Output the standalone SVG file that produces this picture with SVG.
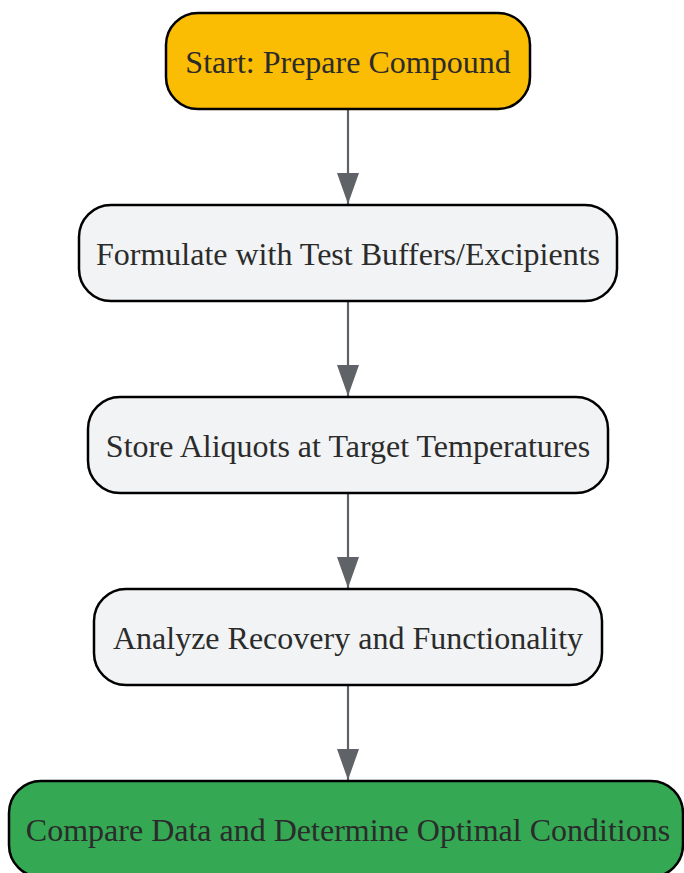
<svg xmlns="http://www.w3.org/2000/svg" width="684" height="873" viewBox="0 0 684 873">
<style>
.n{stroke:#000;stroke-width:2.5}
.t{font-family:"Liberation Serif","Times New Roman",serif;font-size:32px;fill:#2b2b2b;text-anchor:middle;dominant-baseline:central}
.e{stroke:#5f6368;stroke-width:2.2;fill:none;marker-end:url(#ah)}
</style>
<defs>
<marker id="ah" markerWidth="31" markerHeight="22" refX="31" refY="11" orient="auto" markerUnits="userSpaceOnUse" viewBox="0 0 31 22">
<path d="M0,0 L31,11 L0,22 Z" fill="#5f6368"/>
</marker>
</defs>
<rect width="684" height="873" fill="#fff"/>
<g id="edges">
<line class="e" x1="348" y1="109" x2="348" y2="204"/>
<line class="e" x1="348" y1="301" x2="348" y2="396"/>
<line class="e" x1="348" y1="493" x2="348" y2="588"/>
<line class="e" x1="348" y1="685" x2="348" y2="780"/>
</g>
<g id="start">
<rect class="n" x="166" y="13" width="364" height="96" rx="32" fill="#fbbc04"/>
<text class="t" x="348" y="62">Start: Prepare Compound</text>
</g>
<g id="formulate">
<rect class="n" x="79" y="205" width="538" height="96" rx="32" fill="#f1f3f4"/>
<text class="t" x="348" y="254">Formulate with Test Buffers/Excipients</text>
</g>
<g id="store">
<rect class="n" x="88" y="397" width="520" height="96" rx="32" fill="#f1f3f4"/>
<text class="t" x="348" y="446">Store Aliquots at Target Temperatures</text>
</g>
<g id="analyze">
<rect class="n" x="94" y="589" width="508" height="96" rx="32" fill="#f1f3f4"/>
<text class="t" x="348" y="638">Analyze Recovery and Functionality</text>
</g>
<g id="compare">
<rect class="n" x="9" y="781" width="674" height="96" rx="32" fill="#34a853"/>
<text class="t" x="348" y="830">Compare Data and Determine Optimal Conditions</text>
</g>
</svg>
